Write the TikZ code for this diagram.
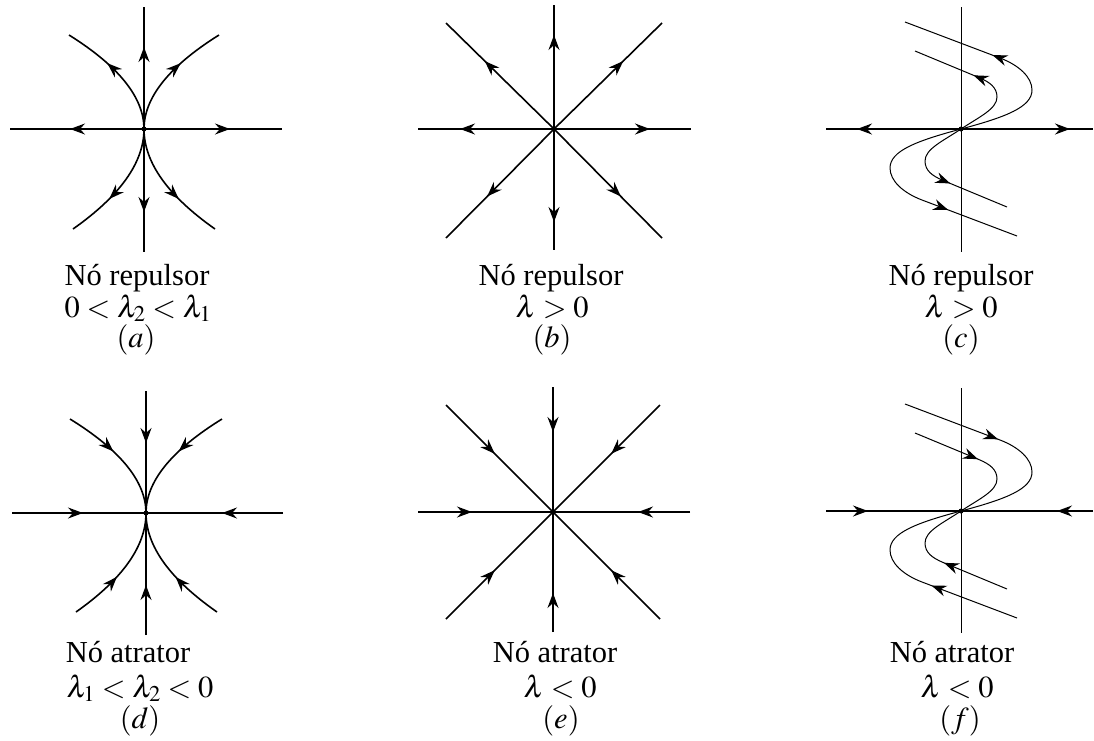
\documentclass[tikz,border=0pt]{standalone}
\usepackage{mathptmx}
\usepackage[no-math]{fontspec}
\setmainfont{Liberation Serif}
\usetikzlibrary{arrows.meta,decorations.markings}
\tikzset{
  ax/.style={line width=1.6pt},
  thinl/.style={line width=1pt},
  ar/.style={postaction={decorate,decoration={markings,
     mark=at position #1 with {\arrow{Stealth[length=15pt,width=11pt,inset=5pt]}}}}},
  dot/.style={circle,fill,inner sep=0pt,minimum size=5pt},
  lbl/.style={anchor=base,inner sep=0pt,font=\fontsize{30.5}{36}\selectfont}
}
\begin{document}
\begin{tikzpicture}[x=1pt,y=-1pt]
\useasboundingbox (0,0) rectangle (1094,740);

% ---------- (a) ----------
\begin{scope}[shift={(144,129)}]
  \draw[ax,ar=74pt] (0,0) -- (-134,0);
  \draw[ax,ar=86pt] (0,0) -- (138,0);
  \draw[ax,ar=82pt] (0,0) -- (0,-122);
  \draw[ax,ar=83pt] (0,0) -- (0,123);
  \draw[ax,ar=0.62] (0,0) .. controls (0,-31.3) and (-25,-62.7) .. (-75,-94);
  \draw[ax,ar=0.62] (0,0) .. controls (0,-31.3) and (25,-62.7) .. (75,-94);
  \draw[ax,ar=0.63] (0,0) .. controls (0,33.3) and (-23.7,66.7) .. (-71,100);
  \draw[ax,ar=0.63] (0,0) .. controls (0,33.3) and (23.7,66.7) .. (71,100);
  \node[dot] (Oa) at (0,0) {};
\end{scope}

% ---------- (b) ----------
\begin{scope}[shift={(554,129)}]
  \draw[ax,ar=94pt] (0,0) -- (-136,0);
  \draw[ax,ar=96pt] (0,0) -- (137,0);
  \draw[ax,ar=94pt] (0,0) -- (0,-124);
  \draw[ax,ar=93pt] (0,0) -- (0,121);
  \draw[ax,ar=97pt] (0,0) -- (-108,-106);
  \draw[ax,ar=97pt] (0,0) -- (108,-106);
  \draw[ax,ar=95pt] (0,0) -- (-108,109);
  \draw[ax,ar=95pt] (0,0) -- (108,109);
  \node[dot] (Ob) at (0,0) {};
\end{scope}

% ---------- (c) ----------
\begin{scope}[shift={(961,129)}]
  \draw[ax,ar=104pt] (0,0) -- (-135,0);
  \draw[ax,ar=109pt] (0,0) -- (132,0);
  \draw[thinl] (0,-122) -- (0,123);
  % upper outer
  \draw[thinl] (0,0) .. controls (45,-12) and (71,-22) .. (71,-39)
     .. controls (71,-52) and (57.7,-63.9) .. (39,-71);
  \draw[thinl,ar=8pt] (39,-71) -- (-56,-107);
  % upper inner
  \draw[thinl] (0,0) .. controls (18,-12) and (36,-20) .. (36,-32)
     .. controls (36,-42) and (28,-47) .. (19,-51);
  \draw[thinl,ar=7pt] (19,-51) -- (-46,-78);
  % lower outer
  \draw[thinl] (0,0) .. controls (-45,12) and (-71,22) .. (-71,39)
     .. controls (-71,52) and (-57.7,63.9) .. (-39,71);
  \draw[thinl,ar=28pt] (-39,71) -- (56,107);
  % lower inner
  \draw[thinl] (0,0) .. controls (-18,12) and (-36,20) .. (-36,32)
     .. controls (-36,42) and (-28,47) .. (-19,51);
  \draw[thinl,ar=9pt] (-19,51) -- (46,78);
  \node[dot] (Oc) at (0,0) {};
\end{scope}

% ---------- (d) ----------
\begin{scope}[shift={(146,513)}]
  \draw[ax,ar=71pt] (-134,0) -- (0,0);
  \draw[ax,ar=61pt] (137,0) -- (0,0);
  \draw[ax,ar=52pt] (0,-122) -- (0,0);
  \draw[ax,ar=50pt] (0,122) -- (0,0);
  \draw[ax,ar=0.43] (-76,-94) .. controls (-25.3,-62.7) and (0,-31.3) .. (0,0);
  \draw[ax,ar=0.43] (76,-94) .. controls (25.3,-62.7) and (0,-31.3) .. (0,0);
  \draw[ax,ar=0.43] (-70,99) .. controls (-23.3,66) and (0,33) .. (0,0);
  \draw[ax,ar=0.43] (71,99) .. controls (23.7,66) and (0,33) .. (0,0);
  \node[dot] (Od) at (0,0) {};
\end{scope}

% ---------- (e) ----------
\begin{scope}[shift={(553,512)}]
  \draw[ax,ar=54pt] (-135,0) -- (0,0);
  \draw[ax,ar=52pt] (137,0) -- (0,0);
  \draw[ax,ar=45pt] (0,-125) -- (0,0);
  \draw[ax,ar=39pt] (0,120) -- (0,0);
  \draw[ax,ar=69pt] (-107,-107) -- (0,0);
  \draw[ax,ar=69pt] (107,-107) -- (0,0);
  \draw[ax,ar=69pt] (-107,107) -- (0,0);
  \draw[ax,ar=69pt] (107,107) -- (0,0);
  \node[dot] (Oe) at (0,0) {};
\end{scope}

% ---------- (f) ----------
\begin{scope}[shift={(961,511)}]
  \draw[ax,ar=42pt] (-135,0) -- (0,0);
  \draw[ax,ar=36pt] (132,0) -- (0,0);
  \draw[thinl] (0,-123) -- (0,122);
  \draw[thinl] (0,0) .. controls (45,-12) and (71,-22) .. (71,-39)
     .. controls (71,-52) and (57.7,-63.9) .. (39,-71);
  \draw[thinl,ar=0.98] (-56,-107) -- (39,-71);
  \draw[thinl] (0,0) .. controls (18,-12) and (36,-20) .. (36,-32)
     .. controls (36,-42) and (28,-47) .. (19,-51);
  \draw[thinl,ar=0.97] (-46,-78) -- (19,-51);
  \draw[thinl] (0,0) .. controls (-45,12) and (-71,22) .. (-71,39)
     .. controls (-71,52) and (-57.7,63.9) .. (-39,71);
  \draw[thinl,ar=0.9] (56,107) -- (-39,71);
  \draw[thinl] (0,0) .. controls (-18,12) and (-36,20) .. (-36,32)
     .. controls (-36,42) and (-28,47) .. (-19,51);
  \draw[thinl,ar=0.97] (46,78) -- (-19,51);
  \node[dot] (Of) at (0,0) {};
\end{scope}

% ---------- labels ----------
\node[lbl] (a1) at (137,285) {Nó repulsor};
\node[lbl] (a2) at (138,317) {$0<\lambda_2<\lambda_1$};
\node[lbl] (a3) at (136,347) {$(a)$};
\node[lbl] (b1) at (551,285) {Nó repulsor};
\node[lbl] (b2) at (552,317) {$\lambda>0$};
\node[lbl] (b3) at (552,347) {$(b)$};
\node[lbl] (c1) at (961,285) {Nó repulsor};
\node[lbl] (c2) at (961,317) {$\lambda>0$};
\node[lbl] (c3) at (961,347) {$(c)$};
\node[lbl] (d1) at (128,662) {Nó atrator};
\node[lbl] (d2) at (140,697) {$\lambda_1<\lambda_2<0$};
\node[lbl] (d3) at (140,728) {$(d)$};
\node[lbl] (e1) at (555,662) {Nó atrator};
\node[lbl] (e2) at (560,697) {$\lambda<0$};
\node[lbl] (e3) at (561,728) {$(e)$};
\node[lbl] (f1) at (952,662) {Nó atrator};
\node[lbl] (f2) at (957,697) {$\lambda<0$};
\node[lbl] (f3) at (960,728) {$(f)$};
\end{tikzpicture}
\end{document}
